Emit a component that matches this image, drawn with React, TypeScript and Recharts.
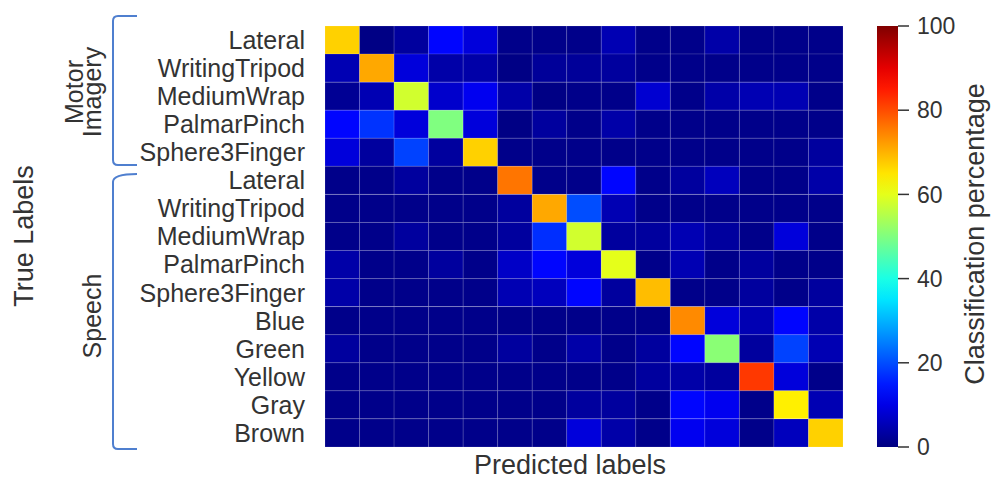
import { BarChart, Bar, Cell, XAxis, YAxis } from 'recharts'

// row labels (true) - same order is used for predicted columns
const rowLabels = [
  'Lateral', 'WritingTripod', 'MediumWrap', 'PalmarPinch', 'Sphere3Finger',
  'Lateral', 'WritingTripod', 'MediumWrap', 'PalmarPinch', 'Sphere3Finger',
  'Blue', 'Green', 'Yellow', 'Gray', 'Brown',
]

// classification percentage per row
const miLateral = [67, 0.5, 3, 13, 9, 1, 1, 1, 5, 1, 1, 4, 1, 1, 1]
const miWritingTripod = [5, 71, 9, 4, 4, 0.5, 2.5, 2.5, 3, 1, 1, 1, 1, 1, 1]
const miMediumWrap = [2, 5, 58, 7.5, 11, 4, 0.5, 1, 1, 8, 1, 4, 5, 5, 1]
const miPalmarPinch = [13, 17.5, 9, 50, 9, 0.5, 3, 1, 4, 1, 1, 1, 1, 1, 1]
const miSphere3Finger = [9, 3, 19, 3, 67, 1, 1, 1, 1, 1, 1, 1, 1, 1, 3]
const spLateral = [1, 1, 3, 1, 1, 76, 1, 1, 13, 1, 3, 6, 1, 1, 4]
const spWritingTripod = [1, 1, 1, 1, 1, 3, 71, 20, 5, 1, 1, 1, 1, 1, 1]
const spMediumWrap = [1, 1, 3, 1, 1, 3, 17, 58, 3, 3, 5, 3, 1, 9, 1]
const spPalmarPinch = [4, 1, 1, 3, 1, 7, 13, 9, 60, 1, 5, 1, 3, 1, 1]
const spSphere3Finger = [4, 1, 1, 1, 1, 5, 6, 13, 3, 69, 1, 1, 3, 1, 3]
const spBlue = [1, 1, 1, 1, 1, 1, 1, 1, 1, 1, 74, 9, 5, 13, 4]
const spGreen = [3, 1, 1, 1, 1, 3, 1, 4, 1, 3, 13, 51, 3, 19, 5]
const spYellow = [1, 1, 1, 1, 1, 1, 1, 1, 1, 3, 4, 3, 82, 9, 1]
const spGray = [1, 1, 1, 1, 1, 1, 1, 3, 3, 1, 13, 11, 1, 64, 5]
const spBrown = [1, 1, 1, 1, 1, 1, 1, 9, 4, 1, 11, 9, 1, 6, 67]

const matrix = [
  miLateral, miWritingTripod, miMediumWrap, miPalmarPinch, miSphere3Finger,
  spLateral, spWritingTripod, spMediumWrap, spPalmarPinch, spSphere3Finger,
  spBlue, spGreen, spYellow, spGray, spBrown,
]

const colorbarTicks = [0, 20, 40, 60, 80, 100]

const FONT = '"Liberation Sans", Arial, sans-serif'
const TEXT = '#333333'
const BRACE = '#4f7fcf'

// matplotlib jet
const jet = (v: number) => {
  const x = Math.max(0, Math.min(1, v / 100))
  const c = (t: number) => Math.round(255 * Math.max(0, Math.min(1, 1.5 - Math.abs(4 * x - t))))
  return `rgb(${c(3)},${c(2)},${c(1)})`
}

// each cell is one unit of a stacked bar, so the x scale places the columns
const cols = rowLabels.map((_, j) => `c${j}`)
const heatData = matrix.map((_, i) => {
  const d: Record<string, number> = { row: i }
  cols.forEach((k) => { d[k] = 1 })
  return d
})

const RowTick = ({ x, y, payload }: any) => (
  <text x={x} y={y} dy="0.355em" textAnchor="end" fill={TEXT} fontSize={25} fontFamily={FONT}>
    {rowLabels[payload.value]}
  </text>
)

const gradStops = Array.from({ length: 21 }, (_, i) => i * 5)

export default function App() {
  return (
    <div style={{ position: 'absolute', left: 0, top: 0, width: 992, height: 479, background: '#fff', fontFamily: FONT }}>
      {/* confusion matrix */}
      <div style={{ position: 'absolute', left: 0, top: 0 }}>
        <BarChart
          width={992}
          height={479}
          data={heatData}
          layout="vertical"
          barCategoryGap={0}
          barGap={0}
          margin={{ top: 26, right: 149, bottom: 32, left: 0 }}
        >
          <XAxis type="number" domain={[0, 15]} hide />
          <YAxis
            type="category"
            dataKey="row"
            width={325}
            axisLine={false}
            tickLine={false}
            tickSize={0}
            tickMargin={20}
            interval={0}
            tick={<RowTick />}
          />
          {cols.map((k, j) => (
            <Bar key={k} dataKey={k} stackId="m" isAnimationActive={false} stroke="rgba(255,255,255,0.12)" strokeWidth={1}>
              {matrix.map((row, i) => (
                <Cell key={i} fill={jet(row[j])} />
              ))}
            </Bar>
          ))}
        </BarChart>
      </div>

      {/* colour bar */}
      <div style={{ position: 'absolute', left: 860, top: 0 }}>
        <BarChart
          width={132}
          height={479}
          data={[{ k: 'cb', v: 100 }]}
          barCategoryGap={0}
          margin={{ top: 26, right: 0, bottom: 32, left: 17 }}
        >
          <defs>
            <linearGradient id="jetGrad" x1="0" y1="1" x2="0" y2="0">
              {gradStops.map((s) => (
                <stop key={s} offset={`${s}%`} stopColor={jet(s)} />
              ))}
            </linearGradient>
          </defs>
          <XAxis dataKey="k" hide />
          <YAxis
            orientation="right"
            domain={[0, 100]}
            ticks={colorbarTicks}
            width={94}
            axisLine={false}
            tickSize={11}
            tickMargin={8}
            tickLine={{ stroke: TEXT, strokeWidth: 1.5 }}
            tick={{ fill: TEXT, fontSize: 23, fontFamily: FONT }}
          />
          <Bar dataKey="v" fill="url(#jetGrad)" isAnimationActive={false} />
        </BarChart>
      </div>

      {/* labels and group braces */}
      <svg width={992} height={479} style={{ position: 'absolute', left: 0, top: 0, pointerEvents: 'none' }} fontFamily={FONT}>
        <path d="M137,16 L118,16 Q113,16 113,21 L113,160 Q113,165 118,165 L137,165" fill="none" stroke={BRACE} strokeWidth={2} />
        <path d="M137,174 Q113,174 113,182 L113,444 Q113,449 118,449 L137,449" fill="none" stroke={BRACE} strokeWidth={2} />
        <text x={33} y={236} transform="rotate(-90 33 236)" textAnchor="middle" fontSize={27} fill={TEXT}>True Labels</text>
        <text x={83} y={92} transform="rotate(-90 83 92)" textAnchor="middle" fontSize={25} fill={TEXT}>Motor</text>
        <text x={101} y={92} transform="rotate(-90 101 92)" textAnchor="middle" fontSize={25} fill={TEXT}>Imagery</text>
        <text x={101} y={316} transform="rotate(-90 101 316)" textAnchor="middle" fontSize={25} fill={TEXT}>Speech</text>
        <text x={570} y={474} textAnchor="middle" fontSize={27} fill={TEXT}>Predicted labels</text>
        <text x={984} y={234} transform="rotate(-90 984 234)" textAnchor="middle" fontSize={27} fill={TEXT}>Classification percentage</text>
      </svg>
    </div>
  )
}
